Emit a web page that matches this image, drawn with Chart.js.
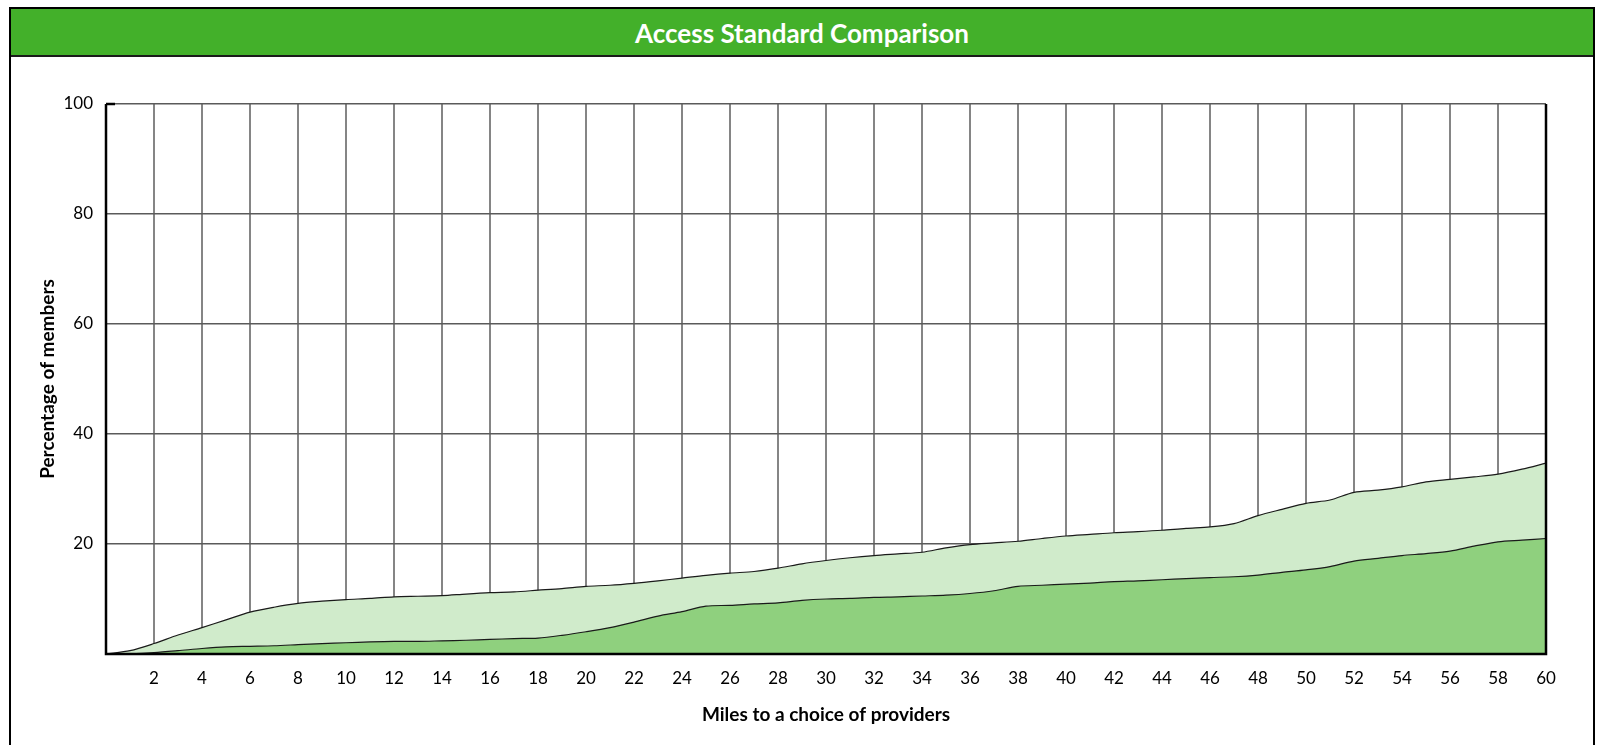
<!DOCTYPE html>
<html>
<head>
<meta charset="utf-8">
<script src="https://cdn.jsdelivr.net/npm/chart.js@4"></script>
<style>
  body { margin: 0; background: #fff; font-family: Lato, "Open Sans", sans-serif; }
  #box { position: absolute; left: 9px; top: 7px; width: 1586px; height: 800px; box-sizing: border-box; border: 2px solid #000; }
  #head { height: 46px; line-height: 48px; background: #43b02a; border-bottom: 2px solid #1a1a1a; color: #fff; font-weight: bold; font-size: 26px; text-align: center; }
  #mycanvas { position: absolute; left: 0; top: 0; }
</style>
</head>
<body>
<div id="box"><div id="head">Access Standard Comparison</div></div>
<canvas id="mycanvas" width="1599" height="745"></canvas>
<script>
var miles = [0,1,2,3,4,5,6,7,8,9,10,11,12,13,14,15,16,17,18,19,20,21,22,23,24,25,26,27,28,29,30,
  31,32,33,34,35,36,37,38,39,40,41,42,43,44,45,46,47,48,49,50,51,52,53,54,55,56,57,58,59,60];

var upper = [0,0.6,1.9,3.45,4.8,6.2,7.6,8.5,9.2,9.6,9.9,10.1,10.4,10.5,10.6,10.9,11.15,11.3,11.6,11.9,12.3,
  12.5,12.85,13.3,13.8,14.3,14.7,15.0,15.6,16.4,17.0,17.5,17.9,18.2,18.5,19.3,19.9,20.2,20.5,21.0,21.45,
  21.75,22.05,22.25,22.5,22.85,23.1,23.7,25.15,26.3,27.4,28.0,29.4,29.8,30.4,31.3,31.75,32.2,32.7,33.6,34.7];

var lower = [0,0.05,0.25,0.6,1.0,1.3,1.4,1.5,1.7,1.9,2.05,2.2,2.3,2.3,2.4,2.5,2.65,2.8,2.9,3.4,4.05,
  4.8,5.8,6.9,7.7,8.7,8.85,9.1,9.3,9.75,10.0,10.1,10.3,10.4,10.55,10.7,11.0,11.5,12.3,12.5,12.7,
  12.9,13.15,13.3,13.5,13.7,13.9,14.05,14.35,14.85,15.3,15.9,16.9,17.4,17.9,18.25,18.7,19.6,20.4,20.7,21.0];

function points(vals) {
  var out = [];
  for (var i in miles) {
    out.push({x: miles[i], y: vals[i]});
  }
  return out;
}

// black frame on left, bottom and right, drawn over the fills
var frame = {
  id: 'frame',
  afterDatasetsDraw: function(chart) {
    var a = chart.chartArea, ctx = chart.ctx;
    ctx.save();
    ctx.strokeStyle = '#000';
    ctx.lineWidth = 2.5;
    ctx.beginPath();
    ctx.moveTo(a.left, a.top);
    ctx.lineTo(a.left, a.bottom);
    ctx.lineTo(a.right, a.bottom);
    ctx.lineTo(a.right, a.top);
    ctx.stroke();
    ctx.beginPath();
    ctx.moveTo(a.left, a.top);
    ctx.lineTo(a.left + 9, a.top);
    ctx.stroke();
    ctx.restore();
  }
};

var tickFont = {family: 'Lato', size: 17};
var titleFont = {family: 'Lato', size: 19, weight: 'bold'};

var chart = new Chart(document.getElementById('mycanvas'), {
  type: 'line',
  data: {
    datasets: [
      {
        label: 'lower',
        data: points(lower),
        fill: 'origin',
        backgroundColor: '#8fd07e',
        borderColor: '#1a1a1a',
        borderWidth: 1.2,
        pointRadius: 0,
        tension: 0.3
      },
      {
        label: 'upper',
        data: points(upper),
        fill: 'origin',
        backgroundColor: '#d0ebcb',
        borderColor: '#1a1a1a',
        borderWidth: 1.2,
        pointRadius: 0,
        tension: 0.3
      }
    ]
  },
  options: {
    responsive: false,
    animation: false,
    devicePixelRatio: 1,
    layout: {padding: {top: 104, right: 53, bottom: 0, left: 0}},
    plugins: {legend: {display: false}, tooltip: {enabled: false}},
    scales: {
      x: {
        type: 'linear',
        min: 0,
        max: 60,
        afterFit: function(s) { s.height = 91; },
        grid: {color: '#858585', lineWidth: 2, drawTicks: false},
        border: {display: false},
        ticks: {
          stepSize: 2,
          padding: 14,
          color: '#000',
          font: tickFont,
          maxRotation: 0,
          callback: function(v) { return v === 0 ? '' : v; }
        },
        title: {display: true, text: 'Miles to a choice of providers', color: '#000', font: titleFont, padding: {top: 0, bottom: 19}}
      },
      y: {
        min: 0,
        max: 100,
        afterFit: function(s) { s.width = 106; },
        grid: {color: '#5a5a5a', lineWidth: 1.5, drawTicks: false},
        border: {display: false},
        ticks: {
          stepSize: 20,
          padding: 13,
          color: '#000',
          font: tickFont,
          callback: function(v) { return v === 0 ? '' : v; }
        },
        title: {display: true, text: 'Percentage of members', color: '#000', font: titleFont, padding: {top: 36, bottom: 0}}
      }
    }
  },
  plugins: [frame]
});
</script>
</body>
</html>
